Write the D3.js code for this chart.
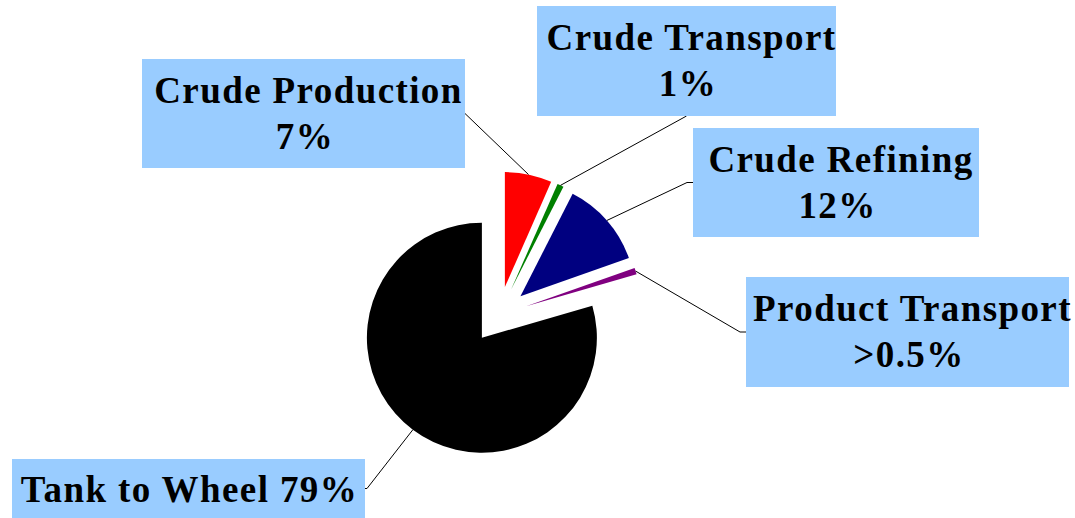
<!DOCTYPE html>
<html>
<head>
<meta charset="utf-8">
<script src="https://cdn.jsdelivr.net/npm/d3@7"></script>
<style>
  html, body { margin: 0; padding: 0; background: #ffffff; }
  svg { display: block; }
  .lbl { font-family: "Liberation Serif", "Times New Roman", serif; font-weight: bold; font-size: 37px; letter-spacing: 1.4px; fill: #000; }
</style>
</head>
<body>
<svg id="chart" width="1075" height="518"></svg>
<script>
// ---- data ----
const categories = ["Crude Production", "Crude Transport", "Crude Refining", "Product Transport", "Tank to Wheel"];
const values = [6.6, 0.9, 12.1, 0.9, 79.5];
const percentLabels = ["7%", "1%", "12%", ">0.5%", "79%"];
const colors = ["#ff0000", "#008000", "#000080", "#800080", "#000000"];

// ---- layout ----
const W = 1075, H = 518;
const cx = 499, cy = 315, R = 115, explode = 28.5;
// label boxes: [x, y, w, h]
const boxes = [
  [142, 59, 323, 109],
  [537, 6, 299, 110],
  [693, 128, 286, 109],
  [746, 277, 323, 110],
  [12, 459, 353, 59]
];
// where the leader meets the box
const anchors = ["right", "bottom", "left", "left", "right"];

const svg = d3.select("#chart");

const pie = d3.pie().sort(null).value(d => d).startAngle(0).endAngle(2 * Math.PI);
const arcs = pie(values);
const arcGen = d3.arc().innerRadius(0).outerRadius(R);

const dir = a => [Math.sin(a), -Math.cos(a)];

// slices
const g = svg.append("g");
g.selectAll("path.slice")
  .data(arcs)
  .join("path")
  .attr("class", "slice")
  .attr("d", arcGen)
  .attr("fill", (d, i) => colors[i])
  .attr("transform", d => {
    const m = (d.startAngle + d.endAngle) / 2;
    const [ux, uy] = dir(m);
    return `translate(${cx + ux * explode},${cy + uy * explode})`;
  });

// leader lines
arcs.forEach((d, i) => {
  const m = (d.startAngle + d.endAngle) / 2;
  const [ux, uy] = dir(m);
  const sx = cx + ux * (explode + R);
  const sy = cy + uy * (explode + R);
  const [bx, by, bw, bh] = boxes[i];
  let pts;
  if (anchors[i] === "right") {
    const ey = by + bh / 2;
    if (i === 0) pts = [[sx, sy], [bx + bw, ey]];
    else pts = [[sx, sy], [bx + bw + 2, ey], [bx + bw, ey]];
  } else if (anchors[i] === "bottom") {
    pts = [[sx, sy], [bx + bw / 2, by + bh]];
  } else {
    const ey = by + bh / 2;
    pts = [[sx, sy], [bx - 6, ey], [bx, ey]];
  }
  svg.append("path")
    .attr("d", d3.line()(pts))
    .attr("fill", "none")
    .attr("stroke", "#000")
    .attr("stroke-width", 1);
});

// label boxes and text
categories.forEach((c, i) => {
  const [bx, by, bw, bh] = boxes[i];
  const lg = svg.append("g");
  lg.append("rect")
    .attr("x", bx).attr("y", by).attr("width", bw).attr("height", bh)
    .attr("fill", "#99ccff");
  const mid = bx + bw / 2;
  if (i === 4) {
    lg.append("text").attr("class", "lbl")
      .attr("x", mid + 1).attr("y", by + 43)
      .attr("text-anchor", "middle")
      .text(c + " " + percentLabels[i]);
  } else {
    lg.append("text").attr("class", "lbl")
      .attr("x", mid + 5).attr("y", by + 44)
      .attr("text-anchor", "middle")
      .text(c);
    lg.append("text").attr("class", "lbl")
      .attr("x", mid + 1.5).attr("y", by + 90)
      .attr("text-anchor", "middle")
      .text(percentLabels[i]);
  }
});
</script>
</body>
</html>
